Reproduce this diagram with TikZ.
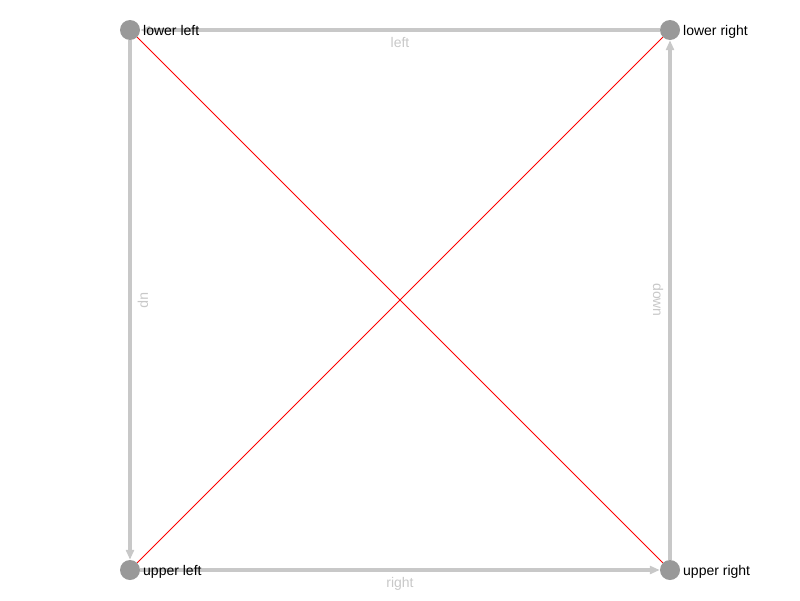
\documentclass[tikz,border=0pt]{standalone}
\usepackage{fontspec}
\setmainfont{Liberation Sans}
\usetikzlibrary{arrows.meta,backgrounds}
\definecolor{edgegray}{HTML}{C8C8C8}
\definecolor{nodegray}{HTML}{999999}
\definecolor{lblgray}{HTML}{C8C8C8}
\begin{document}
\begin{tikzpicture}[x=1pt,y=-1pt,
  vertex/.style={circle,fill=nodegray,inner sep=0pt,minimum size=20pt},
  vname/.style={anchor=base west,inner sep=0pt,font=\fontsize{14}{16}\selectfont,text=black},
  edge/.style={draw=edgegray,line width=4pt,-{Triangle[length=10pt,width=8pt]}},
  redge/.style={draw=red,line width=0.9pt},
  elabel/.style={inner sep=0pt,font=\fontsize{14}{16}\selectfont,text=lblgray}]
\useasboundingbox (0,0) rectangle (800,600);
\node[vertex] (ll) at (130,30) {};
\node[vertex] (lr) at (670,30) {};
\node[vertex] (ul) at (130,570) {};
\node[vertex] (ur) at (670,570) {};
\begin{scope}[on background layer]
  \draw[edge] (lr) -- (ll);
  \draw[edge] (ul) -- (ur);
  \draw[edge] (ll) -- (ul);
  \draw[edge] (ur) -- (lr);
  \draw[redge] (ll) -- (ur);
  \draw[redge] (ul) -- (lr);
\end{scope}
\node[elabel,anchor=base] (tleft) at (400,47) {left};
\node[elabel,anchor=base] (tright) at (400,587) {right};
\node[elabel,rotate=-90] (tup) at (143,300) {up};
\node[elabel,rotate=-90] (tdown) at (658,300) {down};
\node[vname] (nll) at (143,35) {lower left};
\node[vname] (nlr) at (683,35) {lower right};
\node[vname] (nul) at (143,575) {upper left};
\node[vname] (nur) at (683,575) {upper right};
\end{tikzpicture}
\end{document}
